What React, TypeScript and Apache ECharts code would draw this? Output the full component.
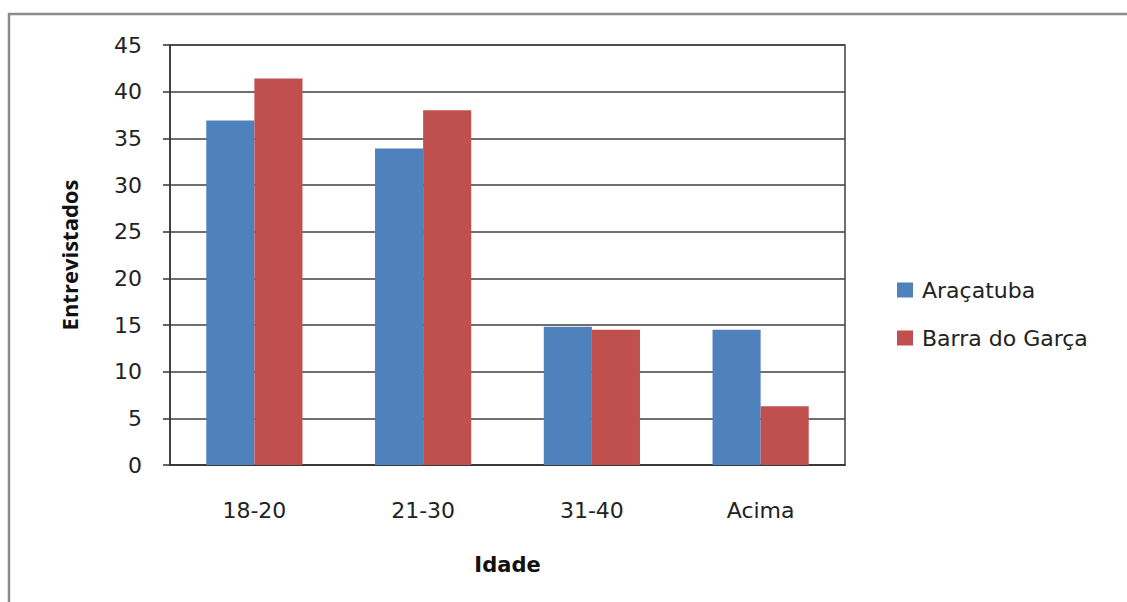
import React, { useEffect, useRef } from "react";
import * as echarts from "echarts";

const categories = ["18-20", "21-30", "31-40", "Acima"];
const aracatuba = [36.9, 33.9, 14.8, 14.5];
const barraDoGarca = [41.4, 38.0, 14.5, 6.3];
const seriesNames = ["Araçatuba", "Barra do Garça"];

export default function App() {
  const ref = useRef<HTMLDivElement>(null);
  useEffect(() => {
    document.body.style.margin = "0";
    const chart = echarts.init(ref.current!, null, { renderer: "svg" });
    const font = "'DejaVu Sans', sans-serif";
    chart.setOption({
      animation: false,
      backgroundColor: "#ffffff",
      textStyle: { fontFamily: font },
      graphic: [
        {
          type: "rect",
          shape: { x: 9, y: 14, width: 1200, height: 700 },
          style: { fill: "none", stroke: "#8c8c8c", lineWidth: 2.5 },
          silent: true,
        },
      ],
      grid: { left: 170, top: 45, width: 675, height: 420, show: true, borderColor: "#404040", borderWidth: 1.5 },
      legend: {
        orient: "vertical",
        left: 892,
        top: 273,
        itemWidth: 16,
        itemHeight: 15,
        itemGap: 24,
        icon: "rect",
        textStyle: { fontFamily: font, fontSize: 22, lineHeight: 24, color: "#222", padding: [0, 0, 0, 4] },
        data: seriesNames,
      },
      xAxis: {
        type: "category",
        data: categories,
        name: "Idade",
        nameLocation: "middle",
        nameGap: 89,
        nameTextStyle: { fontFamily: font, fontSize: 21, fontWeight: "bold", color: "#111" },
        axisLine: { lineStyle: { color: "#333", width: 1.5 } },
        axisTick: { show: false },
        axisLabel: { margin: 34, fontFamily: font, fontSize: 22, color: "#222" },
      },
      yAxis: {
        type: "value",
        min: 0,
        max: 45,
        interval: 5,
        name: "Entrevistados",
        nameLocation: "middle",
        nameGap: 90,
        nameTextStyle: { fontFamily: "'Open Sans', sans-serif", fontSize: 22, fontWeight: "bold", color: "#111" },
        axisLine: { show: true, lineStyle: { color: "#333", width: 1.5 } },
        axisTick: { show: true, length: 7, lineStyle: { color: "#333", width: 1.5 } },
        axisLabel: { margin: 28, fontFamily: font, fontSize: 22, color: "#222" },
        splitLine: { lineStyle: { color: "#404040", width: 1.5 } },
      },
      series: [
        {
          name: seriesNames[0],
          type: "bar",
          data: aracatuba,
          barGap: "0%",
          barCategoryGap: "43%",
          itemStyle: { color: "#4f81bd" },
        },
        {
          name: seriesNames[1],
          type: "bar",
          data: barraDoGarca,
          barGap: "0%",
          barCategoryGap: "43%",
          itemStyle: { color: "#c0504d" },
        },
      ],
    });
    return () => chart.dispose();
  }, []);
  return <div ref={ref} style={{ width: 1127, height: 602 }} />;
}
